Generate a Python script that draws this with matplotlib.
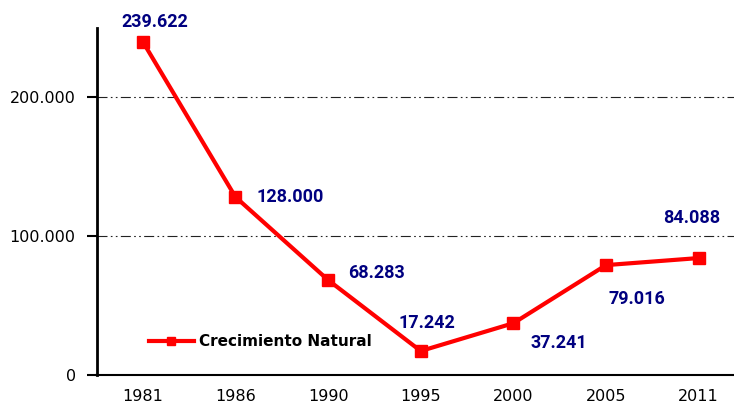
import matplotlib
matplotlib.use("Agg")
import matplotlib.pyplot as plt

years = ["1981", "1986", "1990", "1995", "2000", "2005", "2011"]
values = [239622, 128000, 68283, 17242, 37241, 79016, 84088]
labels = ["239.622", "128.000", "68.283", "17.242", "37.241", "79.016", "84.088"]
offsets = [(12, 20), (55, 0), (48, 7), (6, 28), (45, -20), (31, -34), (-7, 40)]
yticks = [0, 100000, 200000]
ytick_labels = ["0", "100.000", "200.000"]

fig = plt.figure(figsize=(7.34, 4.07), dpi=100)
ax = fig.add_axes([96.5/734, 1 - 375/407, (745 - 96.5)/734, (375 - 28)/407])

x = list(range(len(years)))
ax.plot(x, values, color="#ff0000", lw=3, marker="s", ms=8.5, label="Crecimiento Natural", zorder=3)

for xi, v, lab, off in zip(x, values, labels, offsets):
    ax.annotate(lab, (xi, v), xytext=off, textcoords="offset pixels",
                ha="center", va="center", color="#000080", fontsize=13,
                fontweight="bold", family="Roboto")

ax.set_xlim(-0.5, 6.5)
ax.set_ylim(0, 249500)
ax.set_xticks(x)
ax.set_xticklabels(years, fontsize=11.5)
ax.set_yticks(yticks)
ax.set_yticklabels(ytick_labels, fontsize=11.5)
ax.tick_params(axis="x", length=0, pad=10)
ax.tick_params(axis="y", length=7, width=1.5, direction="out", pad=8)

for yv in yticks[1:]:
    ax.axhline(yv, color="#222222", lw=0.8, ls=(0, (9, 3, 1.5, 3, 1.5, 3)), zorder=1)

for s in ["top", "right"]:
    ax.spines[s].set_visible(False)
ax.spines["left"].set_linewidth(2)
ax.spines["bottom"].set_linewidth(1.5)

leg = ax.legend(loc="lower left", bbox_to_anchor=(0.059, 0.035), frameon=False,
                prop={"weight": "bold", "size": 11}, handlelength=3.0, handletextpad=0.3,
                markerscale=0.6)

fig.savefig("out.png", dpi=100)
